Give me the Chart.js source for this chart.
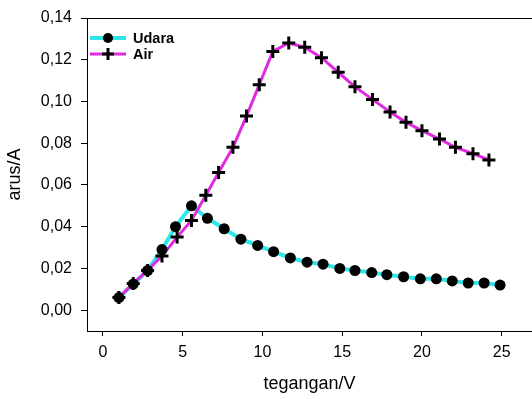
<!DOCTYPE html>
<html>
<head>
<title>arus vs tegangan</title>
<style>
    body { margin: 0; background: #fff; }
    #wrap { width: 532px; height: 399px; }
</style>
</head>
<body>

<div id="wrap">
    <canvas id="myChart" width="532" height="399"></canvas>
</div>

<script src="https://cdn.jsdelivr.net/npm/chart.js"></script>

<script>

    // data
    const udaraV = [1.0, 1.9, 2.8, 3.7, 4.55, 5.55, 6.55, 7.6, 8.65, 9.7, 10.7, 11.75, 12.8, 13.8, 14.85, 15.8, 16.85, 17.8, 18.85, 19.9, 20.9, 21.9, 22.9, 23.9, 24.9];
    const udaraI = [0.006, 0.0125, 0.019, 0.029, 0.040, 0.050, 0.044, 0.039, 0.034, 0.031, 0.028, 0.025, 0.023, 0.022, 0.020, 0.019, 0.018, 0.017, 0.016, 0.015, 0.015, 0.014, 0.013, 0.013, 0.012];

    const airV = [1.0, 1.9, 2.8, 3.7, 4.65, 5.55, 6.45, 7.25, 8.15, 9.0, 9.8, 10.65, 11.65, 12.65, 13.7, 14.75, 15.8, 16.9, 18.0, 19.0, 20.0, 21.1, 22.1, 23.2, 24.2];
    const airI = [0.006, 0.0128, 0.019, 0.026, 0.035, 0.043, 0.055, 0.066, 0.078, 0.093, 0.108, 0.124, 0.128, 0.126, 0.121, 0.114, 0.107, 0.101, 0.095, 0.090, 0.086, 0.082, 0.078, 0.075, 0.072];

    const xTicks = [0, 5, 10, 15, 20, 25];
    const yTicks = [0, 0.02, 0.04, 0.06, 0.08, 0.10, 0.12, 0.14];

    const cyan = '#2fe6ea';
    const magenta = '#e02ae0';

    function pts(xs, ys) {
        return xs.map((x, i) => ({x: x, y: ys[i]}));
    }

    // legend (line + marker) and the top frame line
    const extras = {
        id: 'extras',
        afterDraw(chart) {
            const c = chart.ctx;
            const a = chart.chartArea;
            c.save();
            c.strokeStyle = '#000';
            c.lineWidth = 1;
            c.beginPath();
            c.moveTo(a.left, a.top + 0.5);
            c.lineTo(a.right, a.top + 0.5);
            c.stroke();

            const items = [
                {text: 'Udara', color: cyan, width: 4, y: 38, mark: 'circle'},
                {text: 'Air', color: magenta, width: 3, y: 54, mark: 'cross'}
            ];
            items.forEach(it => {
                c.strokeStyle = it.color;
                c.lineWidth = it.width;
                c.beginPath();
                c.moveTo(90, it.y);
                c.lineTo(126, it.y);
                c.stroke();
                if (it.mark === 'circle') {
                    c.fillStyle = '#000';
                    c.beginPath();
                    c.arc(108, it.y, 5, 0, Math.PI * 2);
                    c.fill();
                } else {
                    c.strokeStyle = '#000';
                    c.lineWidth = 3;
                    c.beginPath();
                    c.moveTo(102, it.y); c.lineTo(114, it.y);
                    c.moveTo(108, it.y - 6); c.lineTo(108, it.y + 6);
                    c.stroke();
                }
                c.fillStyle = '#000';
                c.font = 'bold 14.5px "Liberation Sans", Arial, sans-serif';
                c.textBaseline = 'middle';
                c.fillText(it.text, 133, it.y + 1);
            });
            c.restore();
        }
    };

    const ctx = document.getElementById('myChart');

    const data = {
        datasets: [
            {
                label: 'Udara',
                data: pts(udaraV, udaraI),
                borderColor: cyan,
                borderWidth: 4,
                pointRadius: 0,
                showLine: true,
                order: 4
            },
            {
                label: 'Air',
                data: pts(airV, airI),
                borderColor: magenta,
                borderWidth: 3,
                pointRadius: 0,
                showLine: true,
                order: 3
            },
            {
                label: 'Udara',
                data: pts(udaraV, udaraI),
                showLine: false,
                pointStyle: 'circle',
                pointRadius: 5.5,
                pointBackgroundColor: '#000',
                pointBorderColor: '#000',
                pointBorderWidth: 0,
                order: 2
            },
            {
                label: 'Air',
                data: pts(airV, airI),
                showLine: false,
                pointStyle: 'cross',
                pointRadius: 6.5,
                pointBorderColor: '#000',
                pointBorderWidth: 3,
                order: 1
            }
        ]
    };

    const tickFont = {family: '"Liberation Sans", Arial, sans-serif', size: 16};
    const titleFont = {family: '"Liberation Sans", Arial, sans-serif', size: 18};

    const config = {
        type: 'scatter',
        data: data,
        options: {
            responsive: false,
            animation: false,
            layout: {autoPadding: false, padding: {top: 18, right: 0, left: 0, bottom: 0}},
            scales: {
                x: {
                    type: 'linear',
                    position: 'bottom',
                    min: -1,
                    max: 26.9,
                    afterBuildTicks: s => { s.ticks = xTicks.map(v => ({value: v})); },
                    afterFit: s => { s.height = 68; s.paddingLeft = 0; s.paddingRight = 0; },
                    grid: {drawOnChartArea: false, tickLength: 5, color: '#000'},
                    border: {display: true, color: '#000', width: 1},
                    ticks: {color: '#000', font: tickFont, padding: 7, maxRotation: 0},
                    title: {
                        display: true,
                        text: 'tegangan/V',
                        color: '#000',
                        font: titleFont,
                        padding: {top: 6}
                    }
                },
                y: {
                    type: 'linear',
                    position: 'left',
                    min: -0.01,
                    max: 0.14,
                    afterBuildTicks: s => { s.ticks = yTicks.map(v => ({value: v})); },
                    afterFit: s => { s.width = 87; s.paddingTop = 0; s.paddingBottom = 0; },
                    grid: {drawOnChartArea: false, tickLength: 6, color: '#000'},
                    border: {display: true, color: '#000', width: 1},
                    ticks: {
                        color: '#000',
                        font: tickFont,
                        padding: 9,
                        callback: v => v.toFixed(2).replace('.', ',')
                    },
                    title: {
                        display: true,
                        text: 'arus/A',
                        color: '#000',
                        font: titleFont,
                        padding: {top: 4, bottom: 0}
                    }
                }
            },
            plugins: {
                legend: {display: false},
                tooltip: {enabled: false}
            }
        },
        plugins: [extras]
    };

    new Chart(ctx, config);

</script>

</body>
</html>
